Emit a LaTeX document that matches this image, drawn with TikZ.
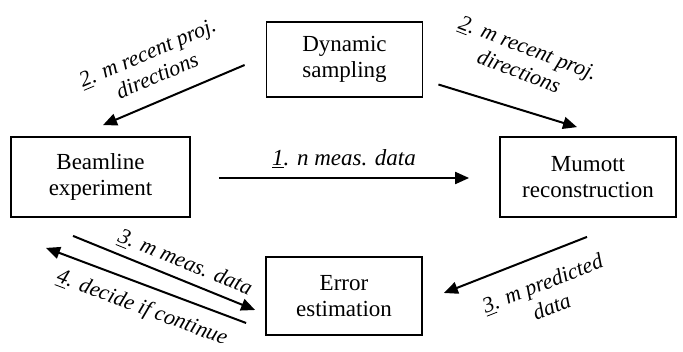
\documentclass[tikz,border=0pt]{standalone}
\usepackage{fontspec}
\setmainfont{Liberation Serif}
\usetikzlibrary{arrows.meta}

\begin{document}
\begin{tikzpicture}[%
      x=0.5pt, y=-0.5pt,
      box/.style={draw=black, line width=0.9pt, align=center, inner sep=0pt,
        font=\fontsize{11.5}{13}\selectfont},
      flow/.style={draw=black, line width=1pt, -{Triangle[length=7pt,width=6pt]}},
      lbl/.style={font=\fontsize{11}{12.5}\selectfont\itshape, align=center,
        sloped, inner sep=1pt},
      ]
      \useasboundingbox (0,0) rectangle (683,352);

      % the four steps
      \node [box, minimum width=78pt, minimum height=37.5pt] (dyn) at (344.5,59.5) {Dynamic\\sampling};
      \node [box, minimum width=89.5pt, minimum height=40pt] (beam) at (100.5,177) {Beamline\\experiment};
      \node [box, minimum width=88pt, minimum height=40pt] (mum) at (588,177) {Mumott\\reconstruction};
      \node [box, minimum width=78pt, minimum height=39pt] (err) at (344,296) {Error\\estimation};

      % projection directions
      \draw [flow] ([shift={(-21,5.5)}]dyn.west) --
            node [lbl, above=7pt, pos=0.55] {\underline{2}. m recent proj.\\directions}
            ([shift={(2.5,-11)}]beam.north);
      \draw [flow] ([shift={(15,25)}]dyn.east) --
            node [lbl, above=13pt, pos=0.5, rotate=-4] {\underline{2}. m recent proj.\\directions}
            ([shift={(-11,-9)}]mum.north);

      % data
      \draw [flow] ([shift={(28,1)}]beam.east) --
            node [lbl, above=3pt, font=\fontsize{11.5}{13}\selectfont\itshape] {\underline{1}. n meas. data}
            ([shift={(-30,1)}]mum.west);
      \draw [flow] ([shift={(-1,19)}]mum.south) --
            node [lbl, below=8pt, pos=0.38] {\underline{3}. m predicted\\data}
            ([shift={(21,-3)}]err.east);
      \draw [flow] ([shift={(-27.5,18)}]beam.south) --
            node [lbl, above=2pt, pos=0.58] {\underline{3}. m meas. data}
            ([shift={(-10,14)}]err.west);
      \draw [flow] ([shift={(-19,27)}]err.west) --
            node [lbl, below=5pt, pos=0.48] {\underline{4}. decide if continue}
            ([shift={(-54.5,30)}]beam.south);
\end{tikzpicture}
\end{document}
